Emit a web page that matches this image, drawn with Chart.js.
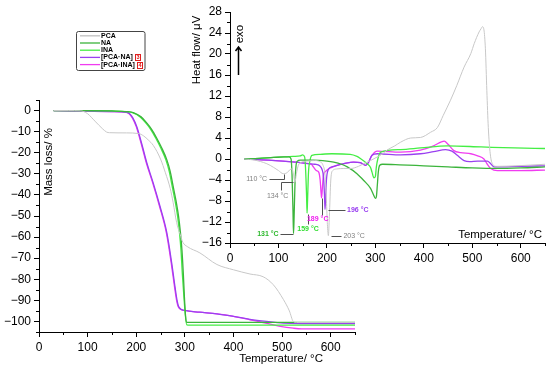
<!DOCTYPE html>
<html lang="en">
<head>
<meta charset="UTF-8">
<title>TGA and DSC</title>
<script src="https://cdn.jsdelivr.net/npm/chart.js"></script>
<style>
  body { margin: 0; background: #fff; }
  #wrap { position: relative; width: 550px; height: 370px; }
  #wrap canvas { position: absolute; left: 0; top: 0; }
</style>
</head>
<body>
<div id="wrap">
  <canvas id="tga" width="550" height="370"></canvas>
  <canvas id="dsc" width="550" height="370"></canvas>
</div>
<script>
// ---- TGA (mass loss, %) ----
const tgaXTicks = [0, 100, 200, 300, 400, 500, 600];
const tgaYTicks = [0, -10, -20, -30, -40, -50, -60, -70, -80, -90, -100];

const tgaPcaT = [30, 60, 85, 91, 100, 115, 130, 139, 145, 180, 205, 215, 225, 235, 250, 260, 270, 276, 283, 290, 296, 305, 331, 366, 400, 434, 461, 482, 503, 515, 523, 530, 650];
const tgaPcaY = [0, 0, -0.1, -0.4, -1.5, -5, -8.5, -10.2, -10.5, -10.6, -10.9, -12, -14, -16.5, -23, -29.5, -37, -43.7, -53, -58.5, -62.5, -64.5, -67.5, -73, -75.5, -77.5, -78.8, -82.6, -89.7, -95, -100, -100.5, -100.5];

const tgaNaT = [30, 100, 150, 180, 194, 210, 222, 232, 242, 252, 263, 270, 276, 282, 287, 291, 294, 297, 299, 301, 303, 310, 650];
const tgaNaY = [0, 0, -0.2, -0.5, -1, -3, -6, -9, -13, -17.5, -23.4, -29, -36, -43, -50, -58, -66, -78, -88, -96, -100.3, -100.4, -100.4];

const tgaInaT = [30, 100, 150, 180, 192, 208, 220, 230, 240, 250, 261, 268, 274, 280, 285, 289, 292, 295, 298, 301, 304, 310, 650];
const tgaInaY = [0, 0, -0.2, -0.5, -1, -3, -6, -9, -13, -17.5, -23.4, -29, -36, -43, -50, -58, -66, -78, -88, -97, -101.6, -101.7, -101.7];

const tgaPcaNaT = [30, 100, 150, 180, 187, 193, 201, 211, 222, 235, 249, 263, 273, 280, 284, 287, 292, 300, 330, 366, 400, 434, 468, 503, 537, 650];
const tgaPcaNaY = [0, -0.3, -0.5, -0.8, -1.6, -3.5, -7.6, -15.5, -25, -34.4, -45.5, -58, -72.3, -84, -90, -92.8, -94.2, -94.8, -95.6, -96.4, -97.6, -99, -100, -100.8, -101, -101];

const tgaPcaInaT = [30, 100, 150, 180, 186, 192, 200, 210, 221, 234, 248, 262, 272, 279, 283, 286, 291, 300, 330, 366, 400, 434, 461, 480, 496, 523, 540, 650];
const tgaPcaInaY = [0, -0.3, -0.5, -0.8, -1.6, -3.5, -7.6, -15.5, -25, -34.4, -45.5, -58, -72.3, -84, -90, -92.8, -94.2, -94.8, -95.6, -96.4, -97.6, -99.2, -100.5, -101.5, -102.3, -103.2, -103.5, -103.5];

// ---- DSC (heat flow, uV) ----
const dscXTicks = [0, 100, 200, 300, 400, 500, 600];
const dscYTicks = [28, 24, 20, 16, 12, 8, 4, 0, -4, -8, -12, -16];

const dscPcaT = [30, 50, 76, 90, 100, 110, 118, 124, 128, 131, 134, 137, 141, 148, 160, 175, 185, 192, 196, 199, 201, 203, 205, 208, 212, 220, 235, 250, 265, 276, 290, 304, 315, 324, 340, 352, 373, 393, 414, 428, 440, 455, 468, 483, 497, 504, 514, 518, 521, 524, 527, 530, 533, 537, 542, 550, 590, 650];
const dscPcaV = [0, -0.2, -0.9, -1.6, -2.2, -2.8, -2.6, -2.0, -1.9, -3.0, -4.4, -2.8, -1.2, -0.6, -0.4, -0.3, -0.5, -1.2, -3, -8, -12.5, -14.6, -11, -4, -2.2, -1.9, -1.8, -1.8, -1.4, -0.9, -0.3, 0.4, 1.0, 1.7, 2.5, 3.2, 4.0, 4.1, 5.1, 6.0, 8.3, 11.2, 14.0, 17.5, 20.1, 22.0, 24.2, 24.8, 25.2, 24.6, 21, 13, 6, 1, -1.0, -1.4, -1.3, -1.0];

const dscNaT = [30, 60, 90, 110, 122, 126, 128, 130, 131, 132, 134, 136, 139, 145, 172, 200, 214, 230, 242, 262, 276, 290, 296, 300, 302, 304, 306, 309, 315, 350, 400, 450, 500, 550, 600, 650];
const dscNaV = [0, 0.1, 0.3, 0.4, 0.4, 0, -3, -10, -14.2, -12, -5, -1.5, -0.4, -0.2, -0.2, -0.4, -0.6, -1.0, -1.5, -2.8, -4.1, -5.6, -6.8, -7.5, -7.2, -5, -2.5, -1.2, -1.0, -1.1, -1.3, -1.5, -1.7, -1.8, -1.7, -1.5];

const dscInaT = [30, 60, 90, 114, 130, 145, 150, 154, 156, 158, 159, 160, 162, 165, 169, 186, 210, 248, 262, 269, 283, 290, 293, 297, 300, 302, 305, 311, 352, 393, 449, 518, 587, 650];
const dscInaV = [0, 0.1, 0.3, 0.4, 0.5, 0.6, 0.8, 0.4, -2, -7, -10.3, -8, -2.5, -0.3, 0.7, 0.9, 1.0, 0.9, 0.5, 0.1, -0.9, -1.6, -2.5, -3.6, -3.3, -1.5, 0, 1.3, 1.8, 2.1, 2.5, 2.3, 2.1, 2.0];

const dscPcaNaT = [30, 79, 135, 162, 175, 185, 190, 193, 195, 196, 197, 199, 203, 210, 221, 235, 255, 269, 280, 286, 293, 304, 352, 393, 420, 445, 458, 469, 483, 495, 511, 531, 538, 545, 600, 650];
const dscPcaNaV = [0, -0.2, -0.6, -0.9, -1.0, -1.3, -2.0, -3.5, -7, -9.6, -8, -4, -2.0, -1.5, -1.2, -0.9, -0.6, -0.7, -1.2, -0.6, 0.7, 1.0, 0.8, 1.0, 1.4, 1.8, 1.5, 0.7, -0.3, -0.5, -0.4, -0.4, -0.9, -1.5, -1.4, -1.3];

const dscPcaInaT = [30, 79, 135, 162, 168, 172, 178, 183, 186, 188, 189, 191, 193, 197, 203, 210, 221, 235, 255, 269, 280, 286, 293, 304, 352, 393, 420, 442, 450, 462, 476, 497, 511, 524, 531, 538, 552, 600, 650];
const dscPcaInaV = [0, -0.2, -0.6, -0.9, -1.0, -1.5, -2.2, -2.5, -4, -6.5, -7.4, -5, -3, -2.4, -1.9, -1.6, -1.2, -0.9, -0.6, -0.7, -1.2, -0.6, 0.7, 1.5, 1.3, 1.7, 2.5, 3.4, 2.8, 1.6, 1.2, 1.0, 0.6, 0.0, -1.0, -1.8, -2.2, -2.2, -2.1];

const seriesNames = ['PCA', 'NA', 'INA', '[PCA\u00b7NA]', '[PCA\u00b7INA]'];
const seriesColors = ['#c8c8c8', '#3cb43c', '#44ee44', '#9a40f0', '#f03cf0'];
const seriesRefs = [null, null, null, '3', '4'];

const FONT = '"Liberation Sans", Arial, sans-serif';

function pts(xs, ys) { return xs.map((x, i) => ({ x: x, y: ys[i] })); }
function minus(v) { return v < 0 ? '\u2212' + Math.abs(v) : String(v); }

function makeSets(list) {
  return list.map((d, i) => ({
    label: seriesNames[i],
    data: pts(d[0], d[1]),
    borderColor: seriesColors[i],
    borderWidth: i === 0 ? 1 : 1.3,
    pointRadius: 0,
    fill: false,
    cubicInterpolationMode: 'monotone'
  }));
}

function axis(min, max, ticks, fitSize, isX) {
  return {
    type: 'linear', min: min, max: max,
    afterBuildTicks: s => { s.ticks = ticks.map(v => ({ value: v })); },
    afterFit: s => { if (isX) s.height = fitSize; else s.width = fitSize; },
    grid: { drawOnChartArea: false, drawTicks: true, tickLength: 5, color: '#000', lineWidth: 1 },
    border: { display: true, color: '#000', width: 1 },
    ticks: { color: '#000', font: { family: FONT, size: 12 }, padding: isX ? 3 : 3,
             maxRotation: 0, autoSkip: false, callback: v => minus(v) }
  };
}

function minor(chart, id, from, to, step) {
  const s = chart.scales[id], ctx = chart.ctx, a = chart.chartArea;
  ctx.save();
  ctx.strokeStyle = '#000'; ctx.lineWidth = 1;
  ctx.beginPath();
  for (let v = from; v <= to + 1e-9; v += step) {
    const p = Math.round(s.getPixelForValue(v)) + 0.5;
    if (id === 'x') { ctx.moveTo(p, a.bottom); ctx.lineTo(p, a.bottom + 3); }
    else { ctx.moveTo(a.left, p); ctx.lineTo(a.left - 3, p); }
  }
  ctx.stroke();
  ctx.restore();
}

function text(ctx, str, x, y, opt) {
  ctx.save();
  ctx.font = (opt.weight || 'normal') + ' ' + (opt.size || 11.5) + 'px ' + FONT;
  ctx.fillStyle = opt.color || '#000';
  ctx.textAlign = opt.align || 'center';
  ctx.textBaseline = 'middle';
  ctx.translate(x, y);
  if (opt.rotate) ctx.rotate(opt.rotate);
  ctx.fillText(str, 0, 0);
  ctx.restore();
}

const common = {
  responsive: false, animation: false,
  plugins: { legend: { display: false }, tooltip: { enabled: false } },
  elements: { point: { radius: 0 } }
};

// TGA chart
const tgaDecor = {
  id: 'tgaDecor',
  afterDraw(chart) {
    const ctx = chart.ctx;
    minor(chart, 'x', 50, 650, 100);
    minor(chart, 'y', -105, 5, 10);
    text(ctx, 'Temperature/ \u00b0C', 323, 359, { align: 'right' });
    text(ctx, 'Mass loss/ %', 49, 162, { rotate: -Math.PI / 2 });

    // legend
    ctx.save();
    ctx.strokeStyle = '#444'; ctx.lineWidth = 1;
    ctx.beginPath();
    ctx.roundRect(76.5, 31.5, 68.5, 39, 2);
    ctx.stroke();
    const rows = [35.8, 43, 50.2, 57.4, 64.6];
    rows.forEach((y, i) => {
      ctx.strokeStyle = seriesColors[i];
      ctx.lineWidth = i === 0 ? 1.5 : 1.3;
      ctx.beginPath(); ctx.moveTo(80, y); ctx.lineTo(100, y); ctx.stroke();
      ctx.font = 'bold 7px ' + FONT;
      ctx.fillStyle = '#000'; ctx.textAlign = 'left'; ctx.textBaseline = 'middle';
      ctx.fillText(seriesNames[i], 101, y);
      if (seriesRefs[i]) {
        const w = ctx.measureText(seriesNames[i]).width;
        const bx = Math.round(101 + w + 2) + 0.5;
        ctx.strokeStyle = '#e02020'; ctx.lineWidth = 1;
        ctx.strokeRect(bx, Math.round(y - 3) + 0.5, 5, 6);
        ctx.font = 'bold 5.5px ' + FONT;
        ctx.fillStyle = '#e02020'; ctx.textAlign = 'center';
        ctx.fillText(seriesRefs[i], bx + 2.5, y + 0.5);
      }
    });
    ctx.restore();
  }
};

new Chart(document.getElementById('tga'), {
  type: 'scatter',
  data: { datasets: makeSets([[tgaPcaT, tgaPcaY], [tgaNaT, tgaNaY], [tgaInaT, tgaInaY], [tgaPcaNaT, tgaPcaNaY], [tgaPcaInaT, tgaPcaInaY]]).map(d => Object.assign(d, { showLine: true })) },
  options: Object.assign({}, common, {
    layout: { padding: { left: 0, right: 195, top: 100, bottom: 0 } },
    scales: { x: axis(0, 650, tgaXTicks, 38, true), y: axis(-105, 5, tgaYTicks, 39, false) }
  }),
  plugins: [tgaDecor]
});

// DSC annotations (data coordinates)
const dscNotes = [
  { t: '110 \u00b0C', c: '#808080', b: false, at: [76.6, -3.73], al: 'right', path: [[80.7, -3.73], [111.8, -3.73], [111.8, -2.78]] },
  { t: '134 \u00b0C', c: '#808080', b: false, at: [98.3, -7.1], al: 'center', path: [[105, -5.96], [105, -4.34], [131, -4.34]] },
  { t: '131 \u00b0C', c: '#2db82d', b: true, at: [100.4, -14.3], al: 'right', path: [[103.5, -14.3], [130, -14.3]] },
  { t: '159 \u00b0C', c: '#33dd33', b: true, at: [161, -13.3], al: 'center', path: [[160, -12.4], [160, -10.4]] },
  { t: '189 \u00b0C', c: '#f020f0', b: true, at: [181, -11.5], al: 'center', path: [[190, -10.7], [190, -7.35]] },
  { t: '196 \u00b0C', c: '#9a40f0', b: true, at: [241.6, -9.64], al: 'left', path: [[202, -9.64], [237, -9.64]] },
  { t: '203 \u00b0C', c: '#808080', b: false, at: [234, -14.6], al: 'left', path: [[209, -14.6], [230, -14.6]] }
];

const dscDecor = {
  id: 'dscDecor',
  afterDraw(chart) {
    const ctx = chart.ctx, sx = chart.scales.x, sy = chart.scales.y;
    minor(chart, 'x', 50, 650, 100);
    minor(chart, 'y', -14, 26, 4);
    text(ctx, 'Temperature/ \u00b0C', 542, 235, { align: 'right' });
    text(ctx, 'Heat flow/ \u03bcV', 197, 50, { rotate: -Math.PI / 2 });
    text(ctx, 'exo', 240, 34, { rotate: -Math.PI / 2 });

    ctx.save();
    ctx.strokeStyle = '#000'; ctx.lineWidth = 1.5;
    ctx.beginPath();
    ctx.moveTo(238.5, 75); ctx.lineTo(238.5, 47.5);
    ctx.moveTo(235.5, 51); ctx.lineTo(238.5, 47); ctx.lineTo(241.5, 51);
    ctx.stroke();

    dscNotes.forEach(n => {
      ctx.strokeStyle = '#505050'; ctx.lineWidth = 1;
      ctx.beginPath();
      n.path.forEach((p, i) => {
        const x = Math.round(sx.getPixelForValue(p[0])) + 0.5;
        const y = Math.round(sy.getPixelForValue(p[1])) + 0.5;
        if (i === 0) ctx.moveTo(x, y); else ctx.lineTo(x, y);
      });
      ctx.stroke();
      text(ctx, n.t, sx.getPixelForValue(n.at[0]), sy.getPixelForValue(n.at[1]),
           { align: n.al, color: n.c, weight: n.b ? 'bold' : 'normal', size: 7 });
    });
    ctx.restore();
  }
};

new Chart(document.getElementById('dsc'), {
  type: 'scatter',
  data: { datasets: makeSets([[dscPcaT, dscPcaV], [dscNaT, dscNaV], [dscInaT, dscInaV], [dscPcaNaT, dscPcaNaV], [dscPcaInaT, dscPcaInaV]]).map(d => Object.assign(d, { showLine: true })) },
  options: Object.assign({}, common, {
    layout: { padding: { left: 200, right: 5, top: 12, bottom: 102 } },
    scales: { x: axis(0, 650, dscXTicks, 25, true), y: axis(-16, 28, dscYTicks, 30, false) }
  }),
  plugins: [dscDecor]
});
</script>
</body>
</html>
